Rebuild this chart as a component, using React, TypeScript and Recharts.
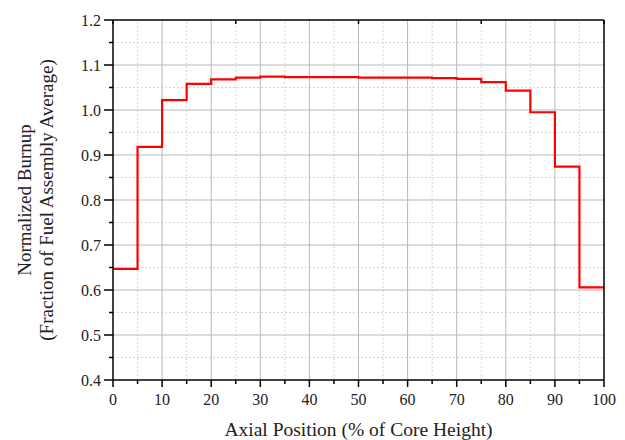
import { LineChart, Line, XAxis, YAxis, ReferenceLine, Label } from "recharts";

// Axial burnup profile: 20 equal nodes, drawn as a step line.
const axialPos = [0, 5, 10, 15, 20, 25, 30, 35, 40, 45, 50, 55, 60, 65, 70, 75, 80, 85, 90, 95, 100];
const burnup = [
  0.647, 0.918, 1.022, 1.058, 1.068, 1.072, 1.074, 1.073, 1.073, 1.073, 1.072,
  1.072, 1.072, 1.071, 1.069, 1.062, 1.043, 0.995, 0.874, 0.606, 0.606,
];

const xTicks = [0, 5, 10, 15, 20, 25, 30, 35, 40, 45, 50, 55, 60, 65, 70, 75, 80, 85, 90, 95, 100];
const yTicks = [0.4, 0.45, 0.5, 0.55, 0.6, 0.65, 0.7, 0.75, 0.8, 0.85, 0.9, 0.95, 1.0, 1.05, 1.1, 1.15, 1.2];
const xMajorGrid = [10, 20, 30, 40, 50, 60, 70, 80, 90];
const xMinorGrid = [5, 15, 25, 35, 45, 55, 65, 75, 85, 95];
const yMajorGrid = [0.5, 0.6, 0.7, 0.8, 0.9, 1.0, 1.1];
const yMinorGrid = [0.45, 0.55, 0.65, 0.75, 0.85, 0.95, 1.05, 1.15];

const data = axialPos.map((x, i) => ({ x, v: burnup[i] }));

const FONT = "'Liberation Serif', 'Times New Roman', serif";
const isMajorX = (v: number) => v % 10 === 0;
const isMajorY = (v: number) => Math.abs(Math.round(v * 10) - v * 10) < 1e-6;

const BottomTick = ({ x, y, payload }: any) => {
  const major = isMajorX(payload.value);
  return (
    <g>
      <line x1={x} x2={x} y1={y} y2={y + (major ? 7 : 4)} stroke="#000" strokeWidth={1.5} />
      {major && (
        <text x={x} y={y + 25} textAnchor="middle" fontFamily={FONT} fontSize={16} fill="#222">
          {payload.value}
        </text>
      )}
    </g>
  );
};

const LeftTick = ({ x, y, payload }: any) => {
  const major = isMajorY(payload.value);
  return (
    <g>
      <line x1={x} x2={x - (major ? 9 : 4)} y1={y} y2={y} stroke="#000" strokeWidth={1.5} />
      {major && (
        <text x={x - 12} y={y} dy="0.35em" textAnchor="end" fontFamily={FONT} fontSize={16} fill="#222">
          {payload.value.toFixed(1)}
        </text>
      )}
    </g>
  );
};

// top / right frame ticks point inward
const TopTick = ({ x, y }: any) => <line x1={x} x2={x} y1={y} y2={y + 4} stroke="#000" strokeWidth={1.5} />;
const RightTick = ({ x, y }: any) => <line x1={x} x2={x - 4} y1={y} y2={y} stroke="#000" strokeWidth={1.5} />;

const axisLine = { stroke: "#000", strokeWidth: 1.5 };

export default function App() {
  return (
    <div style={{ position: "absolute", left: 0, top: 0, background: "#fff" }}>
      <LineChart width={625} height={440} data={data} margin={{ top: 19, right: 20, bottom: 59, left: 112 }}>
        {xMinorGrid.map((v) => (
          <ReferenceLine key={"xm" + v} x={v} stroke="#d6d6d6" strokeDasharray="2 2" />
        ))}
        {yMinorGrid.map((v) => (
          <ReferenceLine key={"ym" + v} y={v} stroke="#d6d6d6" strokeDasharray="2 2" />
        ))}
        {xMajorGrid.map((v) => (
          <ReferenceLine key={"xM" + v} x={v} stroke="#b8b8b8" />
        ))}
        {yMajorGrid.map((v) => (
          <ReferenceLine key={"yM" + v} y={v} stroke="#b8b8b8" />
        ))}
        <XAxis
          dataKey="x"
          type="number"
          domain={[0, 100]}
          ticks={xTicks}
          interval={0}
          height={1}
          tickSize={0}
          tickMargin={0}
          tickLine={false}
          axisLine={axisLine}
          tick={BottomTick}
        >
          <Label
            content={({ viewBox }: any) => (
              <text
                x={viewBox.x + viewBox.width / 2}
                y={viewBox.y + 56}
                textAnchor="middle"
                fontFamily={FONT}
                fontSize={19.5}
                fill="#222"
              >
                Axial Position (% of Core Height)
              </text>
            )}
          />
        </XAxis>
        <XAxis
          xAxisId="top"
          orientation="top"
          type="number"
          domain={[0, 100]}
          ticks={xTicks}
          interval={0}
          height={1}
          tickSize={0}
          tickMargin={0}
          tickLine={false}
          axisLine={axisLine}
          tick={TopTick}
        />
        <YAxis
          type="number"
          domain={[0.4, 1.2]}
          ticks={yTicks}
          interval={0}
          width={1}
          tickSize={0}
          tickMargin={0}
          tickLine={false}
          axisLine={axisLine}
          tick={LeftTick}
        >
          <Label
            content={({ viewBox }: any) => {
              const cy = viewBox.y + viewBox.height / 2;
              const x1 = viewBox.x - 88;
              const x2 = viewBox.x - 66;
              return (
                <g fontFamily={FONT} fontSize={19} fill="#222">
                  <text x={x1} y={cy} textAnchor="middle" dominantBaseline="central" transform={`rotate(-90 ${x1} ${cy})`}>
                    Normalized Burnup
                  </text>
                  <text x={x2} y={cy} textAnchor="middle" dominantBaseline="central" transform={`rotate(-90 ${x2} ${cy})`}>
                    (Fraction of Fuel Assembly Average)
                  </text>
                </g>
              );
            }}
          />
        </YAxis>
        <YAxis
          yAxisId="right"
          orientation="right"
          type="number"
          domain={[0.4, 1.2]}
          ticks={yTicks}
          interval={0}
          width={1}
          tickSize={0}
          tickMargin={0}
          tickLine={false}
          axisLine={axisLine}
          tick={RightTick}
        />
        <Line
          type="stepAfter"
          dataKey="v"
          stroke="#ff0000"
          strokeWidth={2.2}
          dot={false}
          activeDot={false}
          isAnimationActive={false}
        />
      </LineChart>
    </div>
  );
}
